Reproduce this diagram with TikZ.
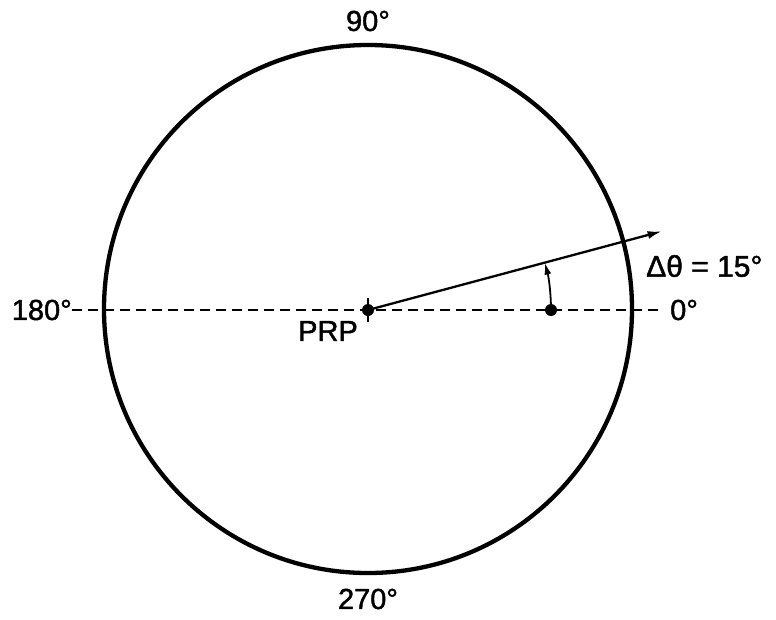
\documentclass[tikz,border=0pt]{standalone}
\usepackage{fontspec}
\setmainfont[FakeBold=1.5]{Liberation Sans}
\usetikzlibrary{arrows.meta,calc}
\begin{document}
\begin{tikzpicture}[x=1pt,y=-1pt,
  lbl/.style={inner sep=0pt,font=\fontsize{29}{34}\selectfont},
  dotnode/.style={circle,fill=black,inner sep=0pt,minimum size=12pt},
  dashline/.style={line width=1.8pt,dash pattern=on 10pt off 6pt},
  ray/.style={line width=2.3pt,-{Latex[length=14pt,width=8pt]}}]
\useasboundingbox (0,0) rectangle (776,619);
\node[circle,draw,line width=4.3pt,minimum size=528pt,inner sep=0pt] (ring) at (368,309) {};
\coordinate (dl) at (72,310);
\coordinate (dr) at (658,310);
\draw[dashline] (dl) -- (dr);
\node[dotnode] (prp) at (368,310) {};
\coordinate (tt) at (368,298);
\coordinate (tb) at (368,322);
\draw[line width=1.8pt] (tt) -- (tb);
\node[dotnode] (pt) at (551,310) {};
\coordinate (tip) at ($(prp.center)+(-15:304)$);
\draw[ray] (prp.center) -- (tip);
\draw[line width=1.8pt,-{Latex[length=12pt,width=7pt]}] (pt.center) arc[start angle=0,end angle=-15,radius=183];
\node[lbl] (l90) at (368,21) {90°};
\node[lbl] (l270) at (368,599) {270°};
\node[lbl,anchor=east] (l180) at (72,310) {180°};
\node[lbl,anchor=west] (l0) at (670,310) {0°};
\node[lbl,anchor=west,font=\fontsize{30}{34}\selectfont] (ldt) at (646,266) {Δθ = 15°};
\node[lbl] (lprp) at (328,331) {PRP};
\end{tikzpicture}
\end{document}
